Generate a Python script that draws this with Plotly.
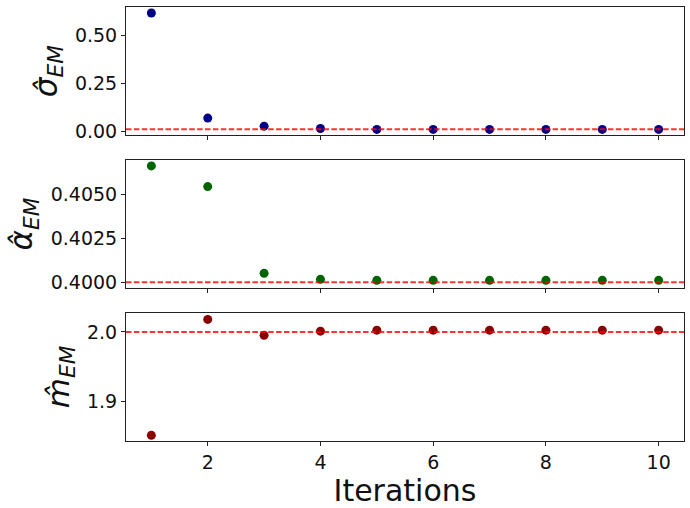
import plotly.graph_objects as go
from plotly.subplots import make_subplots

iterations = [1, 2, 3, 4, 5, 6, 7, 8, 9, 10]
sigma_em = [0.615, 0.068, 0.026, 0.014, 0.009, 0.009, 0.009, 0.009, 0.009, 0.009]
alpha_em = [0.40663, 0.40545, 0.40051, 0.40017, 0.40011, 0.40011, 0.40011, 0.40011, 0.40011, 0.40011]
m_em = [1.8507, 2.018, 1.995, 2.001, 2.0025, 2.0025, 2.0025, 2.0025, 2.0025, 2.0025]

sigma_true = 0.01
alpha_true = 0.4
m_true = 2.0

fig = make_subplots(rows=3, cols=1, shared_xaxes=True, vertical_spacing=0.057)

panels = [
    (sigma_em, sigma_true, '#00008b', '<i>σ̂<sub>EM</sub></i>', [-0.021, 0.646], 0.25, '.2f'),
    (alpha_em, alpha_true, '#006400', '<i>α̂<sub>EM</sub></i>', [0.39967, 0.40697], 0.0025, '.4f'),
    (m_em, m_true, '#8b0000', '<i>m̂<sub>EM</sub></i>', [1.8425, 2.0275], 0.1, '.1f'),
]

for i, (vals, truth, color, label, yr, dt, fmt) in enumerate(panels, start=1):
    fig.add_trace(go.Scatter(
        x=iterations, y=vals, mode='markers',
        marker=dict(color=color, size=9),
        showlegend=False
    ), row=i, col=1)
    fig.add_hline(y=truth, line=dict(color='rgba(255,0,0,0.8)', width=2, dash='5.5px,2.4px'),
                  row=i, col=1)
    fig.update_yaxes(range=yr, dtick=dt, tickformat=fmt, row=i, col=1,
                     title=dict(text=label, font=dict(size=31), standoff=8))

axis_style = dict(showline=True, mirror=True, linecolor='#222', linewidth=1,
                  ticks='outside', ticklen=4, tickcolor='#222', showgrid=False,
                  zeroline=False, tickfont=dict(size=19, color='#111'))
fig.update_xaxes(**axis_style, range=[0.55, 10.45], dtick=2, tick0=0)
fig.update_yaxes(**axis_style)
fig.update_xaxes(title=dict(text='Iterations', font=dict(size=30, color='#111'), standoff=2), row=3, col=1)

fig.update_layout(
    width=690, height=508,
    margin=dict(l=126, r=6, t=7, b=67),
    plot_bgcolor='white', paper_bgcolor='white',
    font=dict(family='DejaVu Sans', color='#111'),
)

# drop the browser's default body margin so the figure sits at the page corner
fig.write_html("out.html", config={'displayModeBar': False},
               post_script="document.body.style.margin='0';")
